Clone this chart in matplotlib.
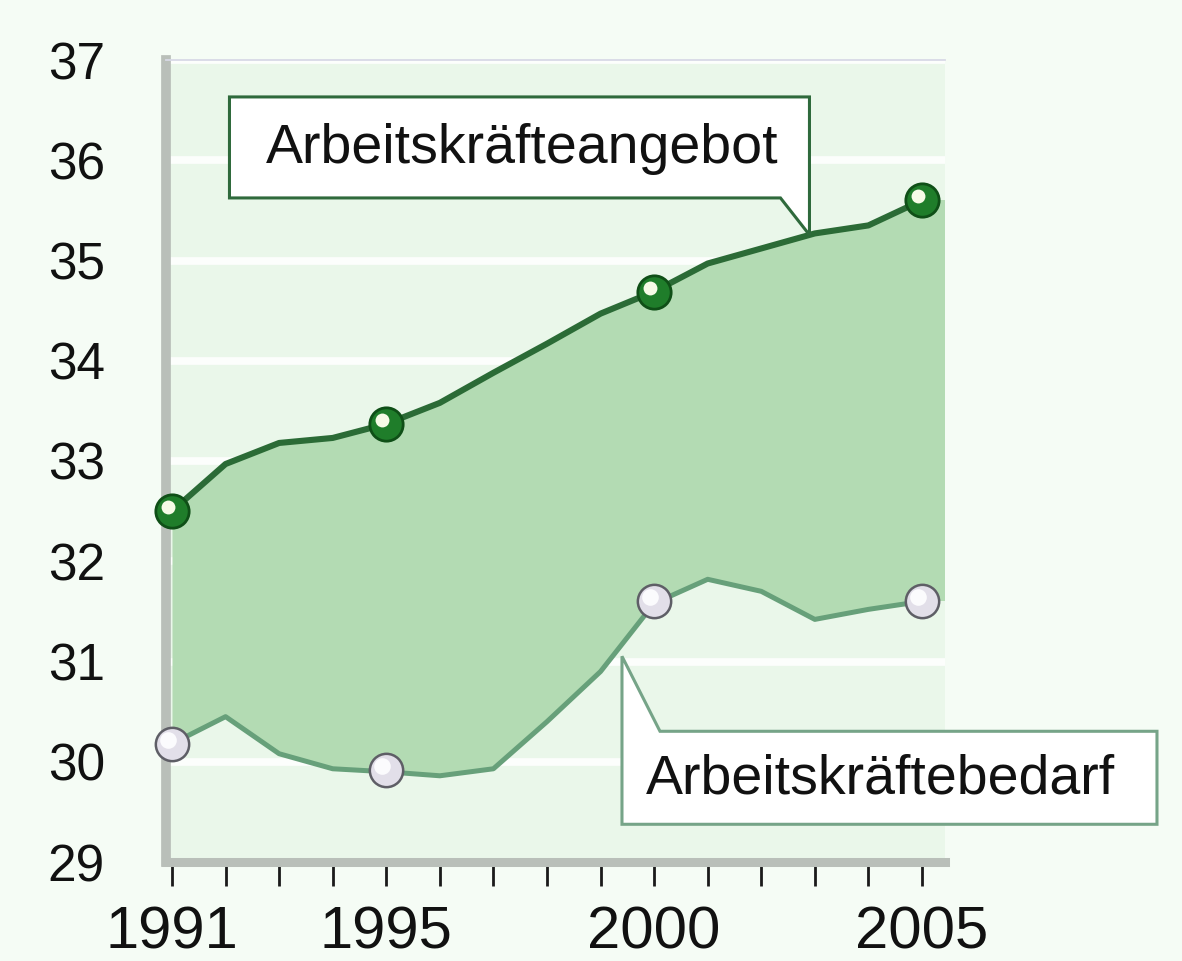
import matplotlib
matplotlib.use("Agg")
import matplotlib.pyplot as plt
import numpy as np
from matplotlib.patches import Polygon
from matplotlib.transforms import IdentityTransform, offset_copy

# ---------------- data ----------------
years = [1991, 1992, 1993, 1994, 1995, 1996, 1997, 1998, 1999, 2000,
         2001, 2002, 2003, 2004, 2005]
angebot = [32.5, 32.97, 33.18, 33.23, 33.37, 33.58, 33.88, 34.17, 34.47, 34.69,
           34.97, 35.12, 35.27, 35.35, 35.6]
bedarf = [30.18, 30.45, 30.08, 29.93, 29.9, 29.86, 29.93, 30.4, 30.9, 31.58,
          31.82, 31.7, 31.42, 31.52, 31.6]
marker_years = [1991, 1995, 2000, 2005]
angebot_markers = [32.5, 33.37, 34.69, 35.6]
bedarf_markers = [30.18, 29.92, 31.6, 31.6]
y_ticks = [29, 30, 31, 32, 33, 34, 35, 36, 37]
x_labels = {1991: "1991", 1995: "1995", 2000: "2000", 2005: "2005"}
label_angebot = "Arbeitskräfteangebot"
label_bedarf = "Arbeitskräftebedarf"

# ---------------- style ----------------
W, H = 1182, 961
FIG_BG = "#f5fcf5"
WALL = "#eaf7ea"
FILL = "#b3dbb3"
DARK = "#2b6b36"
MID = "#67a07a"
SPINE = "#b9bfb9"
FONT = "Liberation Sans"

fig = plt.figure(figsize=(W / 100, H / 100), dpi=100, facecolor=FIG_BG)
ax = fig.add_axes([166 / W, 1 - 862 / H, (945 - 166) / W, (862 - 60) / H])
ax.set_facecolor(WALL)
ax.set_xlim(1990.888, 2005.43)
ax.set_ylim(29, 37)
ax.set_axisbelow(True)

# gridlines (white)
ax.set_yticks(y_ticks)
ax.yaxis.grid(True, color="white", linewidth=5.5, alpha=0.9)

# area between the two series
ax.fill_between(years, bedarf, angebot, color=FILL, linewidth=0, zorder=1)
xr = ax.get_xlim()[1]
ax.fill_between([years[-1], xr], [bedarf[-1]] * 2, [angebot[-1]] * 2,
                color=FILL, linewidth=0, zorder=1)

# lines
ax.plot(years, bedarf, color=MID, linewidth=3.6, solid_joinstyle="round",
        solid_capstyle="round", zorder=3)
ax.plot(years, angebot, color=DARK, linewidth=4.4, solid_joinstyle="round",
        solid_capstyle="round", zorder=3)

# spherical markers
hl = offset_copy(ax.transData, fig=fig, x=-4, y=4, units="dots")
ax.plot(marker_years, angebot_markers, "o", ms=24, mfc="#1f7d2a",
        mec="#0f4f17", mew=2.0, zorder=5, clip_on=False)
ax.plot(marker_years, angebot_markers, "o", ms=10, mfc="#f6fbe6",
        mec="none", zorder=6, transform=hl, clip_on=False)
ax.plot(marker_years, bedarf_markers, "o", ms=24, mfc="#e2dfe9",
        mec="#5e5e66", mew=1.8, zorder=5, clip_on=False)
ax.plot(marker_years, bedarf_markers, "o", ms=12, mfc="#fbfbfd",
        mec="none", zorder=6, transform=hl, clip_on=False)

# spines
ax.spines["right"].set_visible(False)
ax.spines["top"].set_color("#d8d9e6")
ax.spines["top"].set_linewidth(1.3)
ax.spines["left"].set_color(SPINE)
ax.spines["left"].set_linewidth(7)
ax.spines["bottom"].set_color(SPINE)
ax.spines["bottom"].set_linewidth(6.5)

# ticks
ax.set_xticks(years)
ax.set_xticklabels([x_labels.get(y, "") for y in years])
ax.tick_params(axis="x", direction="out", length=17, width=2.0,
               color="#1a1a1a", pad=14, labelsize=43)
ax.tick_params(axis="y", length=0, pad=44, labelsize=37)
for lab in ax.get_xticklabels() + ax.get_yticklabels():
    lab.set_fontfamily(FONT)
    lab.set_color("#111111")


# ---------------- callouts ----------------
def to_px(x, y):
    return ax.transData.transform((x, y))


fig.canvas.draw()

# Angebot callout: tip touches the supply line
tip_year_a = 2002.9
tx, ty = to_px(tip_year_a, np.interp(tip_year_a, years, angebot))
top_a = ty + 138
bot_a = ty + 37
left_a = tx - 580
poly_a = [(left_a, top_a), (tx, top_a), (tx, ty), (tx - 29, bot_a), (left_a, bot_a)]
fig.patches.append(Polygon(poly_a, closed=True, facecolor="white",
                           edgecolor="#2f6a3c", linewidth=2.2,
                           transform=IdentityTransform(), zorder=10))
fig.text((left_a + 293) / W, (bot_a + 35) / H, label_angebot, fontsize=40,
         family=FONT, ha="center", va="baseline", color="#111111", zorder=11)

# Bedarf callout: tip touches the demand line
tip_year_b = 1999.4
bx, by = to_px(tip_year_b, np.interp(tip_year_b, years, bedarf) - 0.12)
top_b = by - 75
bot_b = by - 168
right_b = bx + 535
poly_b = [(bx, bot_b), (bx, by), (bx + 38, top_b), (right_b, top_b), (right_b, bot_b)]
fig.patches.append(Polygon(poly_b, closed=True, facecolor="white",
                           edgecolor="#76a488", linewidth=2.2,
                           transform=IdentityTransform(), zorder=10))
fig.text((bx + 258) / W, (bot_b + 31) / H, label_bedarf, fontsize=40,
         family=FONT, ha="center", va="baseline", color="#111111", zorder=11)

fig.savefig("out.png", dpi=100, facecolor=FIG_BG)
